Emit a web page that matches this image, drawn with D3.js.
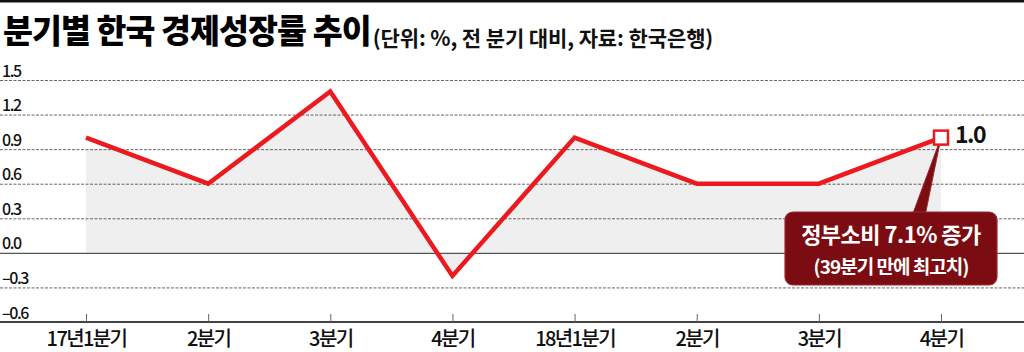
<!DOCTYPE html>
<html><head><meta charset="utf-8">
<script src="https://cdn.jsdelivr.net/npm/d3@7"></script>
<style>
html,body{margin:0;padding:0;background:#fff;}
svg{display:block;font-family:"Noto Sans CJK KR","Noto Sans",sans-serif;}
</style></head>
<body><svg id="c" width="1024" height="352"></svg>
<script>
const categories = ["17년1분기","2분기","3분기","4분기","18년1분기","2분기","3분기","4분기"];
const values = [1.0, 0.6, 1.4, -0.2, 1.0, 0.6, 0.6, 1.0];
const yTicks = [1.5, 1.2, 0.9, 0.6, 0.3, 0.0, -0.3, -0.6];
const yTickLabels = ["1.5","1.2","0.9","0.6","0.3","0.0","–0.3","–0.6"];
const titleText = "분기별 한국 경제성장률 추이";
const subtitleText = "(단위: %, 전 분기  대비, 자료: 한국은행)";
const lastLabel = "1.0";
const calloutLines = ["정부소비 7.1% 증가", "(39분기 만에 최고치)"];

const W = 1024, H = 352;
const svg = d3.select("#c");
const x = d3.scalePoint().domain(d3.range(categories.length)).range([86, 941]);
const y = d3.scaleLinear().domain([-0.6, 1.5]).range([322, 80]);

// top bar
svg.append("rect").attr("x",0).attr("y",0).attr("width",W).attr("height",2.5).attr("fill","#111");

// title
const t = svg.append("text").attr("x",3).attr("y",43).attr("font-size",32.5).attr("font-weight",900)
  .attr("letter-spacing",-0.9).attr("fill","#000").text(titleText);
const tEnd = 3 + t.node().getComputedTextLength();
svg.append("text").attr("x",tEnd+2).attr("y",46).attr("font-size",21).attr("font-weight",700)
  .attr("letter-spacing",-0.1).attr("fill","#111").text(subtitleText);

// shaded area under the line
const clipId = "areaClip";
svg.append("clipPath").attr("id",clipId).append("path")
  .attr("d",`M${x(0)},${y(0.9)} L${x(0)+30},${y(0.9)} L${x(1)},0 L${W},0 L${W},${H} L${x(0)},${H} Z`);
const area = d3.area().x((d,i)=>x(i)).y0(y(0)).y1(d=>y(d));
svg.append("path").datum(values).attr("d",area).attr("fill","#efefef")
  .attr("clip-path",`url(#${clipId})`);

// gridlines
const gy = svg.append("g").call(d3.axisRight(y).tickValues(yTicks).tickSize(W)
  .tickFormat((d,i)=>yTickLabels[i]));
gy.select(".domain").remove();
gy.selectAll(".tick line").attr("stroke","#555")
  .attr("stroke-dasharray", d=> d===0 ? null : "3,1.5").attr("stroke-width", d=> d===0?1.3:0.9)
  .attr("opacity", d=> d===-0.6 ? 0 : 1);
gy.selectAll(".tick text").attr("x",2).attr("dy",-4).attr("text-anchor","start")
  .attr("font-size",16).attr("font-weight",500).attr("letter-spacing",-1.4).attr("fill","#111")
  .attr("font-family","'Noto Sans CJK KR',sans-serif");

// x axis
svg.append("line").attr("x1",0).attr("x2",W).attr("y1",y(-0.6)).attr("y2",y(-0.6))
  .attr("stroke","#444").attr("stroke-width",2);
const gx = svg.append("g").attr("transform",`translate(0,${y(-0.6)})`)
  .call(d3.axisBottom(x).tickSize(-8).tickFormat(i=>categories[i]));
gx.select(".domain").remove();
gx.selectAll(".tick line").attr("stroke","#666").attr("stroke-width",1);
gx.selectAll(".tick text").attr("y",24).attr("dy",0).attr("font-size",20).attr("font-weight",500)
  .attr("letter-spacing",-1.6).attr("fill","#111").attr("font-family","'Noto Sans CJK KR',sans-serif");

// line
const line = d3.line().x((d,i)=>x(i)).y(d=>y(d));
svg.append("path").datum(values).attr("d",line).attr("fill","none")
  .attr("stroke","#ec1a1f").attr("stroke-width",4.5).attr("stroke-linejoin","miter");

// callout
const li = values.length-1;
const px = x(li), py = y(values[li]);
const bx = 785, by = 212, bw = 212, bh = 73;
const cg = svg.append("g");
cg.append("path").attr("d",`M${px},${py} L${912},${by+4} L${925},${by+4} Z`).attr("fill","#7b0d12")
  .attr("stroke","#9a2a2e").attr("stroke-width",1);
cg.append("rect").attr("x",bx).attr("y",by).attr("width",bw).attr("height",bh).attr("rx",8)
  .attr("fill","#7b0d12").attr("stroke","#9a2a2e").attr("stroke-width",1.2);
cg.append("text").attr("x",bx+bw/2).attr("y",by+31).attr("text-anchor","middle").attr("font-size",22)
  .attr("font-weight",700).attr("letter-spacing",-0.5).attr("fill","#fff").text(calloutLines[0]);
cg.append("text").attr("x",bx+bw/2).attr("y",by+62).attr("text-anchor","middle").attr("font-size",19)
  .attr("font-weight",700).attr("letter-spacing",-1).attr("fill","#fff").text(calloutLines[1]);

// marker
svg.append("rect").attr("x",px-7).attr("y",py-7).attr("width",14).attr("height",14)
  .attr("fill","#fff").attr("stroke","#ec1a1f").attr("stroke-width",2.5);
svg.append("text").attr("x",px+14).attr("y",py+5).attr("font-size",23).attr("font-weight",700)
  .attr("letter-spacing",-1.5).attr("fill","#111").text(lastLabel);
</script></body></html>
